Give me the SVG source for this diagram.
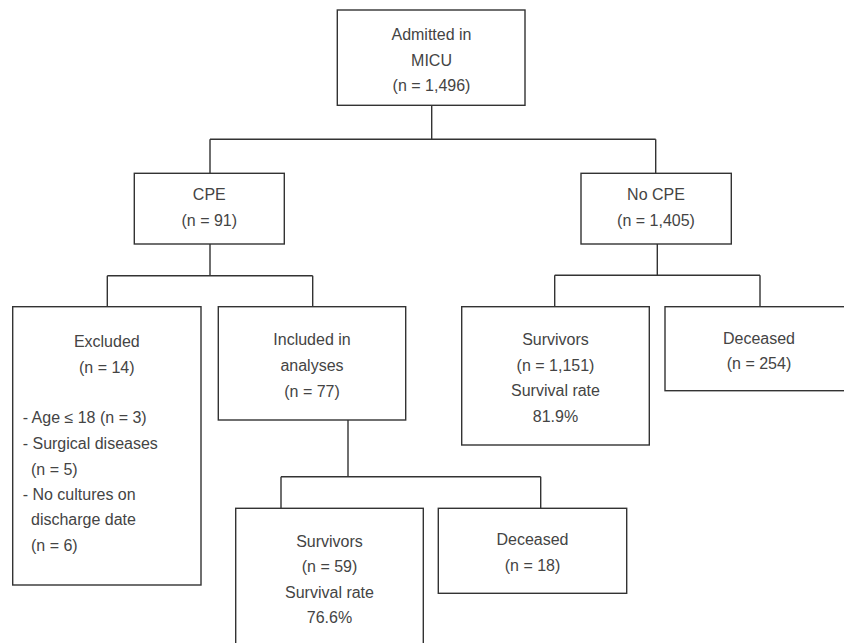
<svg xmlns="http://www.w3.org/2000/svg" width="844" height="643" viewBox="0 0 844 643">
<style>
.box{fill:#fff;stroke:#333;stroke-width:1.4}
.ln{fill:none;stroke:#333;stroke-width:1.4}
text{font-family:"Liberation Sans",Arial,sans-serif;font-size:16px;fill:#444}
.c{text-anchor:middle}
</style>
<rect width="844" height="643" fill="#fff"/>
<g id="connectors">
<path class="ln" d="M431.7 105.3V139.3M210 139.3H655.7M210 139.3V173.3M655.7 139.3V173.3"/>
<path class="ln" d="M210 244V275.7M107.3 275.7H312.7M107.3 275.7V306.7M312.7 275.7V306.7"/>
<path class="ln" d="M348 420V476.7M281 476.7H540.7M281 476.7V508.3M540.7 476.7V508.3"/>
<path class="ln" d="M657.3 244V275.3M554.7 275.3H760M554.7 275.3V306.7M760 275.3V306.7"/>
</g>
<g id="admitted">
<rect class="box" x="337.3" y="10" width="187.7" height="95.3"/>
<text class="c" x="431.5" y="40">Admitted in</text>
<text class="c" x="431.5" y="65.5">MICU</text>
<text class="c" x="431.5" y="91">(n = 1,496)</text>
</g>
<g id="cpe">
<rect class="box" x="134.3" y="173.3" width="150" height="70.7"/>
<text class="c" x="209.3" y="200">CPE</text>
<text class="c" x="209.3" y="225.5">(n = 91)</text>
</g>
<g id="nocpe">
<rect class="box" x="581" y="173.3" width="150.3" height="70.7"/>
<text class="c" x="656" y="200">No CPE</text>
<text class="c" x="656" y="225.5">(n = 1,405)</text>
</g>
<g id="excluded">
<rect class="box" x="12.7" y="306.7" width="188.3" height="278.3"/>
<text class="c" x="106.8" y="347">Excluded</text>
<text class="c" x="106.8" y="373">(n = 14)</text>
<text x="22.7" y="423">- Age ≤ 18 (n = 3)</text>
<text x="22.7" y="449">- Surgical diseases</text>
<text x="31" y="474.5">(n = 5)</text>
<text x="22.7" y="500">- No cultures on</text>
<text x="31" y="525">discharge date</text>
<text x="31" y="550.5">(n = 6)</text>
</g>
<g id="included">
<rect class="box" x="218.3" y="306.7" width="187.4" height="113.3"/>
<text class="c" x="312" y="345">Included in</text>
<text class="c" x="312" y="371">analyses</text>
<text class="c" x="312" y="396.5">(n = 77)</text>
</g>
<g id="survivors1">
<rect class="box" x="461.7" y="306.7" width="187.6" height="138.3"/>
<text class="c" x="555.5" y="345">Survivors</text>
<text class="c" x="555.5" y="370.5">(n = 1,151)</text>
<text class="c" x="555.5" y="396">Survival rate</text>
<text class="c" x="555.5" y="421.5">81.9%</text>
</g>
<g id="deceased1">
<rect class="box" x="665" y="306.7" width="190" height="84"/>
<text class="c" x="759" y="343.5">Deceased</text>
<text class="c" x="759" y="369">(n = 254)</text>
</g>
<g id="survivors2">
<rect class="box" x="235.7" y="508.3" width="187.6" height="150"/>
<text class="c" x="329.5" y="546.5">Survivors</text>
<text class="c" x="329.5" y="572">(n = 59)</text>
<text class="c" x="329.5" y="597.5">Survival rate</text>
<text class="c" x="329.5" y="623">76.6%</text>
</g>
<g id="deceased2">
<rect class="box" x="438.3" y="508.3" width="188.4" height="85"/>
<text class="c" x="532.5" y="545">Deceased</text>
<text class="c" x="532.5" y="571">(n = 18)</text>
</g>
</svg>
